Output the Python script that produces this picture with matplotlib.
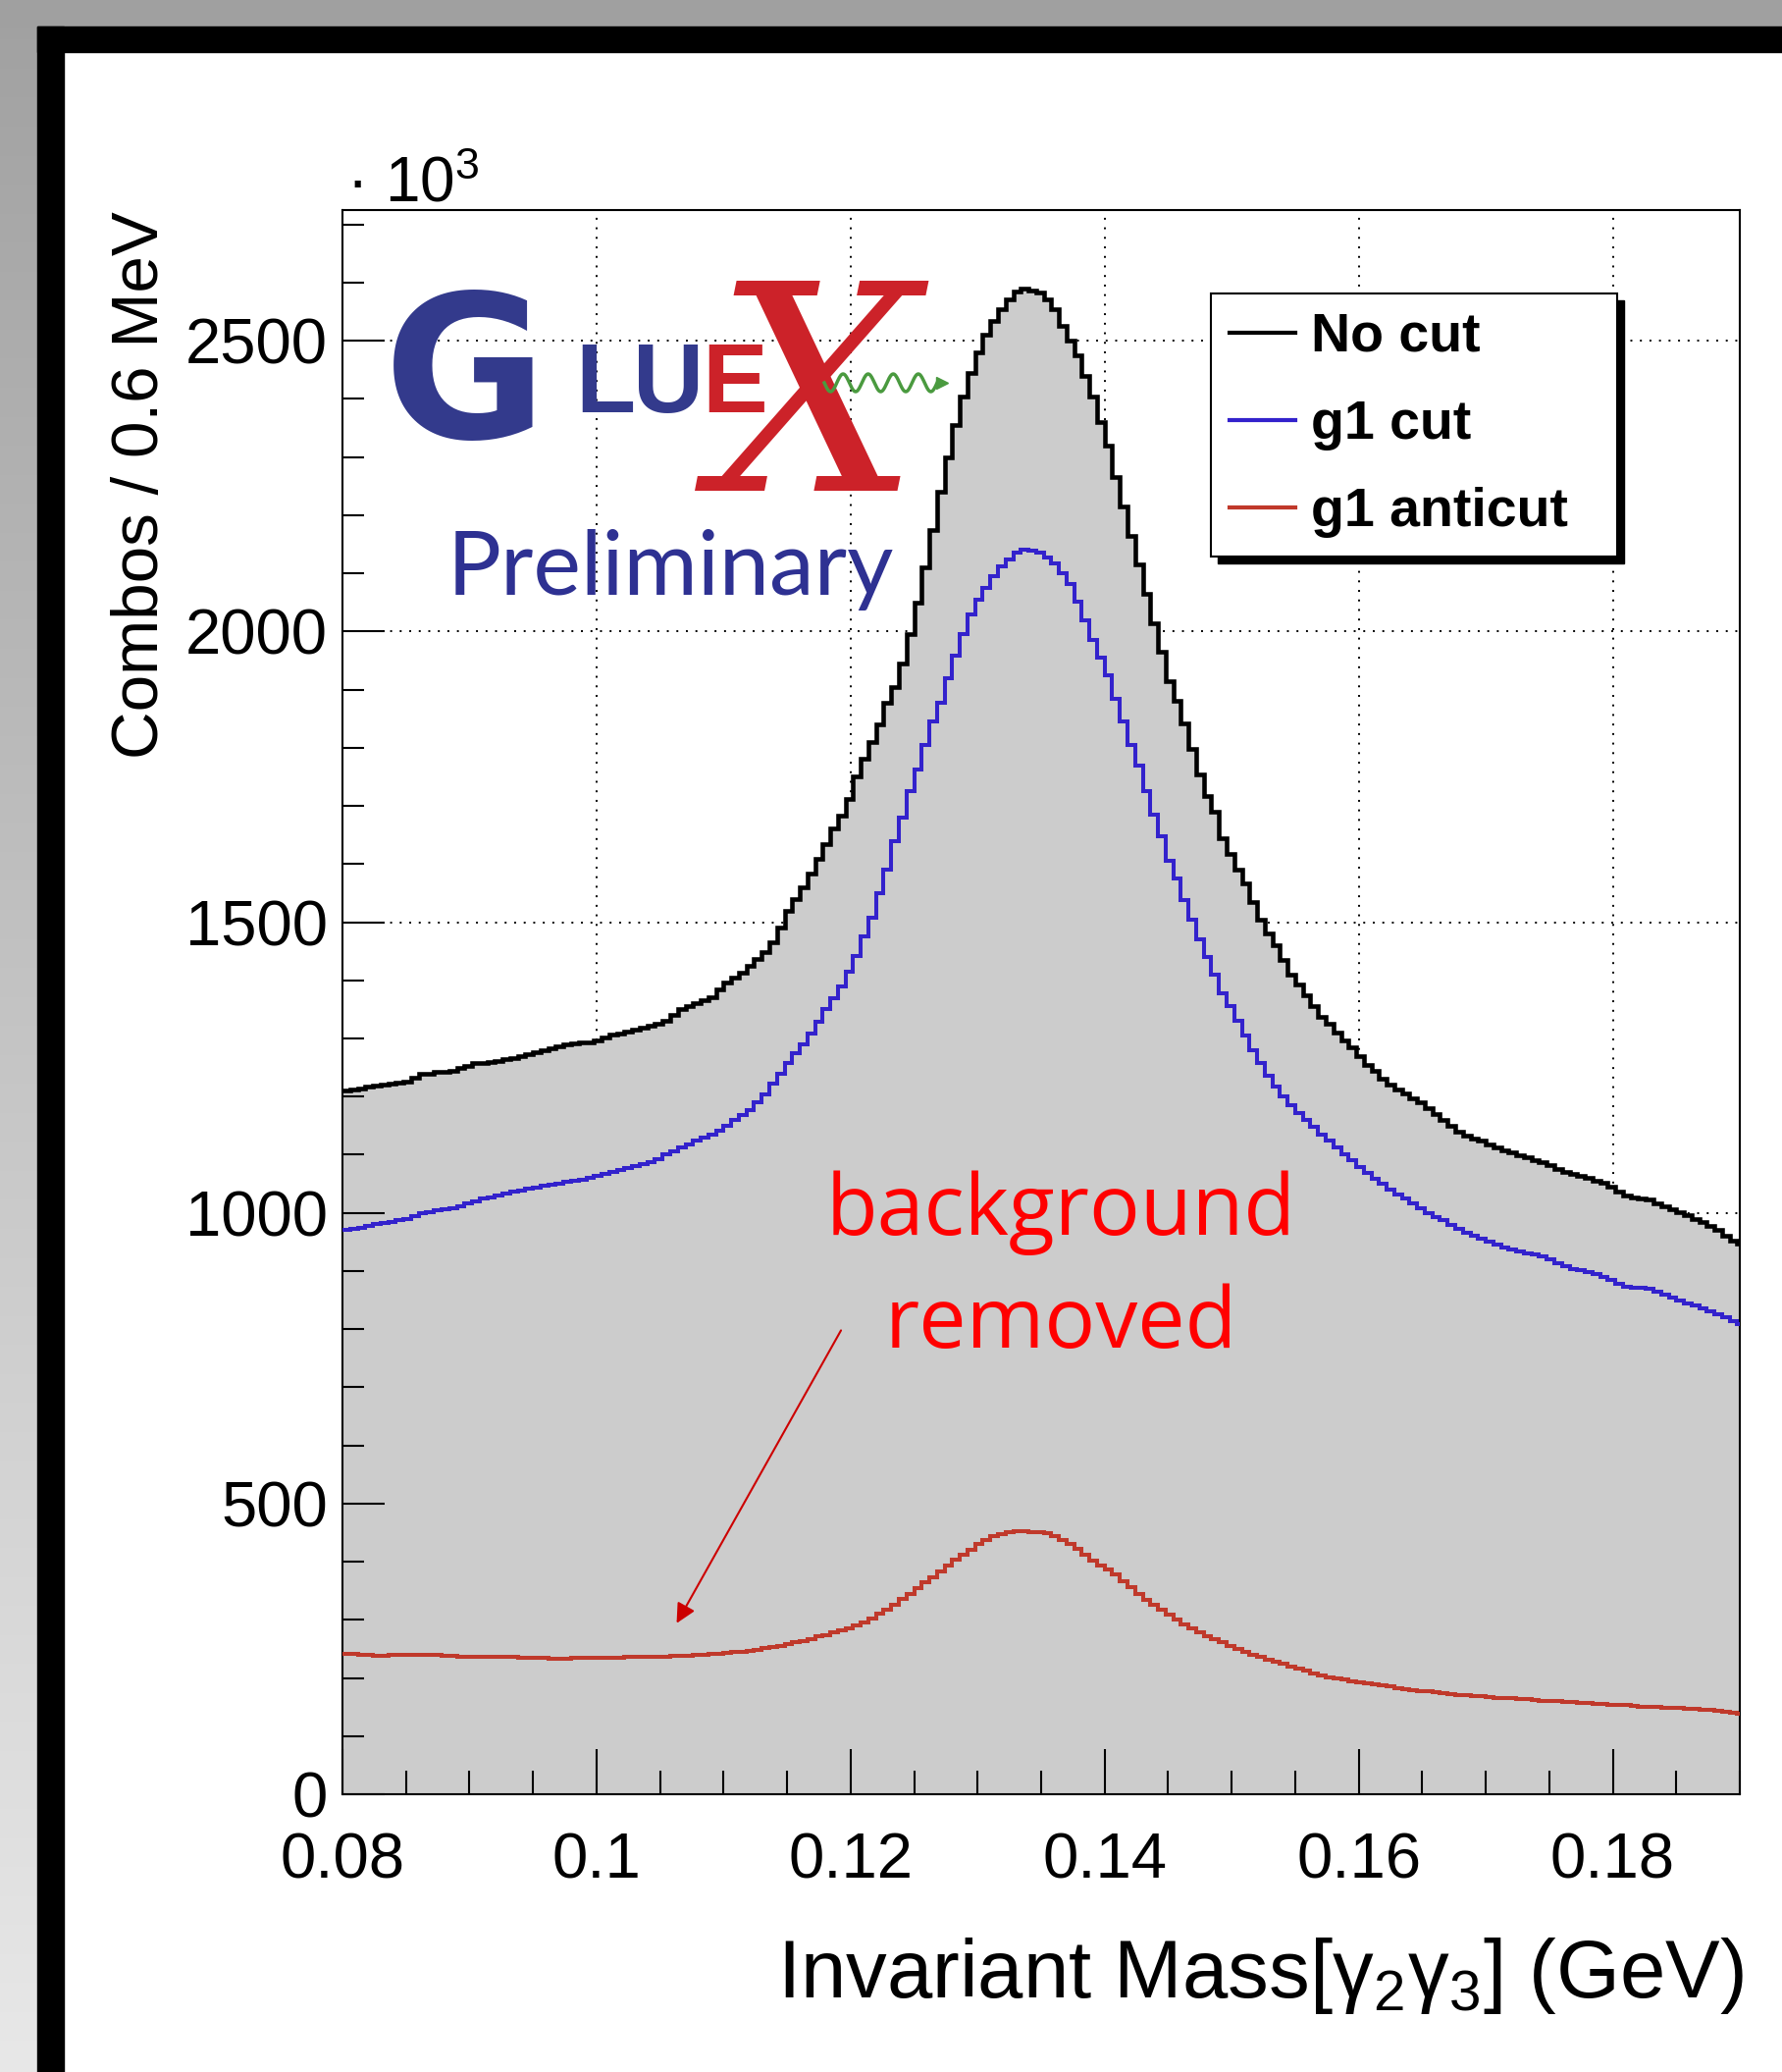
import numpy as np
import matplotlib
matplotlib.use('Agg')
import matplotlib.pyplot as plt
from matplotlib.patches import Rectangle
from matplotlib.lines import Line2D
from matplotlib.ticker import MultipleLocator, FuncFormatter
from matplotlib.transforms import IdentityTransform

W, H = 1816, 2111

# 0.6 MeV bins starting at 0.08 GeV
bin_lo = 0.08
bin_w = 0.0006

no_cut = [1210, 1212, 1214, 1217, 1219, 1220, 1222, 1224, 1226, 1233,
          1239, 1240, 1242, 1243, 1245, 1249, 1253, 1257, 1258, 1260,
          1262, 1264, 1267, 1270, 1273, 1276, 1280, 1283, 1287, 1290,
          1292, 1293, 1294, 1296, 1301, 1306, 1309, 1312, 1315, 1319,
          1322, 1326, 1331, 1340, 1350, 1356, 1361, 1366, 1371, 1385,
          1397, 1405, 1413, 1425, 1437, 1449, 1466, 1490, 1520, 1540,
          1560, 1584, 1609, 1635, 1662, 1684, 1712, 1750, 1782, 1810,
          1840, 1877, 1905, 1945, 1995, 2050, 2110, 2175, 2240, 2300,
          2355, 2405, 2445, 2480, 2510, 2535, 2555, 2572, 2585, 2590,
          2587, 2583, 2572, 2555, 2525, 2500, 2475, 2440, 2405, 2360,
          2320, 2265, 2215, 2165, 2115, 2065, 2015, 1965, 1915, 1880,
          1842, 1798, 1755, 1717, 1690, 1645, 1618, 1590, 1567, 1535,
          1505, 1480, 1460, 1435, 1410, 1393, 1375, 1356, 1338, 1325,
          1310, 1296, 1285, 1270, 1255, 1245, 1230, 1220, 1212, 1205,
          1197, 1190, 1180, 1170, 1160, 1150, 1140, 1133, 1128, 1125,
          1118, 1112, 1108, 1104, 1099, 1095, 1091, 1087, 1082, 1076,
          1071, 1067, 1064, 1060, 1055, 1052, 1045, 1037, 1030, 1026,
          1025, 1023, 1017, 1012, 1007, 1001, 996, 990, 984, 978,
          970, 961, 953, 948]

g1_cut = [970, 972, 975, 978, 981, 983, 985, 987, 989, 995,
          1000, 1002, 1004, 1006, 1008, 1012, 1016, 1020, 1024, 1027,
          1030, 1033, 1036, 1039, 1041, 1043, 1046, 1048, 1050, 1053,
          1055, 1057, 1060, 1063, 1067, 1071, 1074, 1077, 1080, 1084,
          1087, 1093, 1100, 1106, 1113, 1118, 1124, 1129, 1135, 1142,
          1150, 1160, 1168, 1177, 1190, 1204, 1222, 1240, 1258, 1275,
          1290, 1308, 1328, 1350, 1370, 1390, 1415, 1442, 1475, 1508,
          1550, 1590, 1640, 1680, 1725, 1762, 1805, 1845, 1878, 1920,
          1958, 1995, 2030, 2055, 2075, 2095, 2112, 2124, 2135, 2140,
          2139, 2135, 2127, 2117, 2100, 2082, 2052, 2020, 1985, 1955,
          1925, 1885, 1845, 1805, 1770, 1725, 1685, 1648, 1605, 1575,
          1538, 1505, 1470, 1440, 1410, 1378, 1355, 1330, 1305, 1280,
          1258, 1236, 1218, 1200, 1186, 1172, 1160, 1148, 1135, 1124,
          1112, 1100, 1090, 1079, 1068, 1058, 1050, 1040, 1032, 1024,
          1016, 1008, 1000, 993, 987, 980, 973, 966, 960, 955,
          950, 945, 940, 937, 933, 931, 928, 925, 920, 913,
          908, 904, 902, 899, 895, 890, 884, 878, 873, 871,
          871, 870, 865, 859, 854, 849, 845, 840, 835, 830,
          826, 820, 813, 808]

g1_anticut = [242, 241, 240, 239, 238, 238, 239, 239, 240, 240,
              240, 240, 239, 238, 238, 237, 237, 237, 236, 236,
              236, 236, 236, 235, 235, 234, 234, 233, 233, 233,
              234, 234, 234, 234, 234, 235, 235, 236, 236, 237,
              237, 237, 237, 238, 238, 238, 239, 240, 241, 242,
              243, 244, 245, 247, 249, 251, 253, 255, 258, 261,
              264, 267, 271, 274, 278, 282, 286, 291, 296, 303,
              310, 317, 326, 336, 345, 355, 364, 373, 383, 393,
              403, 412, 421, 430, 438, 444, 448, 451, 452, 452,
              451, 450, 449, 444, 438, 430, 422, 412, 402, 394,
              387, 378, 366, 356, 344, 335, 326, 317, 309, 300,
              292, 285, 278, 272, 266, 261, 255, 250, 245, 240,
              236, 232, 228, 224, 220, 216, 212, 208, 204, 201,
              199, 197, 195, 193, 191, 189, 187, 185, 183, 181,
              179, 178, 177, 176, 174, 173, 171, 170, 169, 168,
              167, 166, 165, 165, 164, 163, 162, 161, 161, 160,
              159, 158, 157, 157, 156, 155, 154, 153, 153, 152,
              151, 150, 150, 149, 148, 148, 147, 147, 146, 145,
              144, 142, 140, 139]

labels = ['No cut', 'g1 cut', 'g1 anticut']
colors = ['black', '#3322cc', '#c0392b']
x_ticks = [0.08, 0.10, 0.12, 0.14, 0.16, 0.18]
y_ticks = [0, 500, 1000, 1500, 2000, 2500]

edges = bin_lo + bin_w * np.arange(len(no_cut) + 1)

plt.rcParams['font.family'] = ['Liberation Sans', 'DejaVu Sans']
plt.rcParams['mathtext.fontset'] = 'custom'
plt.rcParams['mathtext.rm'] = 'Liberation Sans'
plt.rcParams['mathtext.it'] = 'Liberation Sans:italic'
plt.rcParams['mathtext.bf'] = 'Liberation Sans:bold'


def fx(px):
    return px / W


def fy(py):
    return 1 - py / H


fig = plt.figure(figsize=(W / 100, H / 100), dpi=100)
fig.patch.set_facecolor('white')

# slide frame: grey gradient strip on the left, grey top, black bands
grad = np.linspace(0.63, 0.91, H)
strip = np.repeat(grad[:, None], 38, axis=1)
fig.figimage(np.dstack([strip] * 3), xo=0, yo=0, origin='upper', zorder=0)
fig.add_artist(Rectangle((0, fy(27)), 1, 27 / H, transform=fig.transFigure,
                         color='#a0a0a0', zorder=1))
fig.add_artist(Rectangle((fx(38), fy(53)), 1, 26 / H, transform=fig.transFigure,
                         color='black', zorder=2))
fig.add_artist(Rectangle((fx(38), 0), 27 / W, fy(27), transform=fig.transFigure,
                         color='black', zorder=2))

ax = fig.add_axes([fx(349), fy(1828), (1773 - 349) / W, (1828 - 214) / H])

# histograms
ax.stairs(no_cut, edges, fill=True, color='#cccccc', zorder=1)
for vals, c, lw in zip([no_cut, g1_cut, g1_anticut], colors, [3.3, 2.9, 2.9]):
    ax.stairs(vals, edges, baseline=None, color=c, lw=lw, zorder=3)

ax.set_xlim(0.08, 0.19)
ax.set_ylim(0, 2725)

# dotted grid, hidden behind the filled histogram
for v in x_ticks[1:]:
    ax.axvline(v, color='black', lw=1.4, ls=(0, (1, 4)), zorder=0.5)
for v in y_ticks[1:]:
    ax.axhline(v, color='black', lw=1.4, ls=(0, (1, 4)), zorder=0.5)
ax.set_axisbelow(False)

ax.xaxis.set_major_locator(MultipleLocator(0.02))
ax.xaxis.set_minor_locator(MultipleLocator(0.005))
ax.yaxis.set_major_locator(MultipleLocator(500))
ax.yaxis.set_minor_locator(MultipleLocator(100))
fmt = FuncFormatter(lambda v, p: '%g' % round(v, 4))
ax.xaxis.set_major_formatter(fmt)
ax.yaxis.set_major_formatter(fmt)
ax.tick_params(which='both', direction='in', top=False, right=False, width=1.5,
               labelsize=47)
ax.tick_params(axis='x', which='major', length=33, pad=28)
ax.tick_params(axis='x', which='minor', length=17)
ax.tick_params(axis='y', which='major', length=31, pad=11)
ax.tick_params(axis='y', which='minor', length=16)
for s in ax.spines.values():
    s.set_linewidth(1.5)

handles = [Line2D([], [], color=c, lw=3) for c in colors]
leg = ax.legend(handles, labels, loc='upper left',
                bbox_to_anchor=(0.6215, 0.9473 - 0.1648, 0.2907, 0.1648),
                mode='expand', borderaxespad=0, handlelength=1.2,
                handletextpad=0.3, borderpad=0.34, labelspacing=0.67,
                prop={'family': 'Liberation Sans', 'weight': 'bold', 'size': 40},
                fancybox=False, framealpha=1, edgecolor='black')
leg.get_frame().set_linewidth(1.5)

# annotation
ax.text(0.13656, 962, 'background', ha='center', va='baseline', color='red',
        fontsize=62, family='Open Sans')
ax.text(0.13656, 768, 'removed', ha='center', va='baseline', color='red',
        fontsize=62, family='Open Sans')
ax.annotate('', xy=(0.1062, 290), xytext=(0.11935, 802),
            arrowprops=dict(arrowstyle='-|>', color='#cc0000', lw=1.5,
                            mutation_scale=30))

# axis titles
fig.text(fx(144), fy(215), 'Combos / 0.6 MeV', rotation=90, ha='center',
         va='top', fontsize=48.5)
fig.text(fx(1777), fy(2035), r'Invariant Mass[$\mathregular{\gamma_{2}\gamma_{3}}$] (GeV)',
         ha='right', va='baseline', fontsize=60)
fig.text(fx(353), fy(205), '\u00b7 10$^{3}$', ha='left', va='baseline', fontsize=46)

# GlueX logo
blue = '#333a8c'
red = '#cc2229'
fig.text(fx(474), fy(446), 'G', fontsize=146, fontweight='bold',
         family='DejaVu Sans', color=blue, ha='center', va='baseline')
for ch, cx, c in zip('LUE', [617, 681, 749], [blue, blue, red]):
    fig.text(fx(cx), fy(420), ch, fontsize=72, fontweight='bold',
             family='Liberation Sans', color=c, ha='center', va='baseline')
fig.text(fx(832), fy(500), 'X', fontsize=212, style='italic',
         family='DejaVu Serif', color=red, ha='center', va='baseline')
t = np.linspace(0, 1, 300)
wx = 840 + 115 * t
wy = 390 + 9 * np.sin(2 * np.pi * 4.5 * t)
fig.add_artist(Line2D(fx(wx), fy(wy), color='#4a9a3f', lw=2.5, zorder=6))
fig.add_artist(Line2D([fx(960)], [fy(390)], marker='>', ms=9, color='#4a9a3f',
                      zorder=6))
fig.text(fx(456), fy(606), 'Preliminary', family='Lato', fontsize=66,
         color='#2e3192', ha='left', va='baseline')

# ROOT-style legend shadow
fig.canvas.draw()
bb = leg.get_frame().get_window_extent(fig.canvas.get_renderer())
ax.add_patch(Rectangle((bb.x0 + 7, bb.y0 - 7), bb.width, bb.height,
                       transform=IdentityTransform(), color='black',
                       zorder=4.9, clip_on=False))

fig.savefig('out.png', dpi=100)
